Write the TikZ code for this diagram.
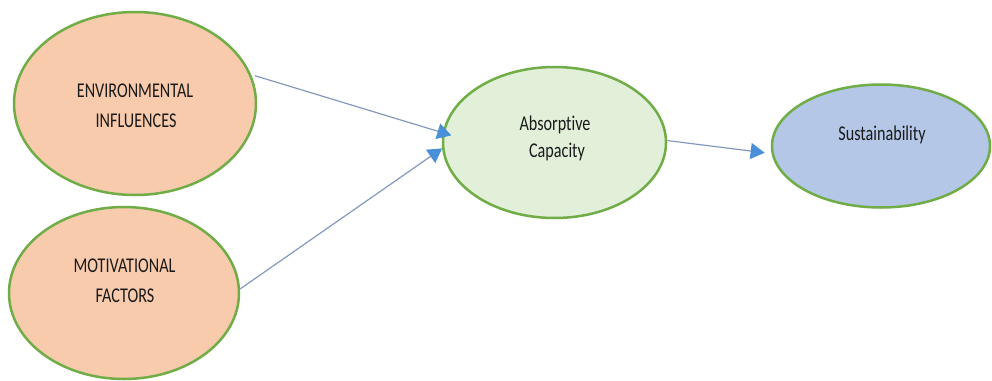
\documentclass[tikz,border=0pt]{standalone}
\usepackage{fontspec}
\newfontfamily\cf[FakeStretch=0.77,Ligatures=NoCommon]{Carlito}
\usetikzlibrary{arrows.meta,shapes.geometric}
\definecolor{bord}{HTML}{70AD47}
\definecolor{orangefill}{HTML}{F8CBAD}
\definecolor{greenfill}{HTML}{E2F0D9}
\definecolor{bluefill}{HTML}{B4C7E7}
\definecolor{lineblue}{HTML}{8499BE}
\definecolor{headblue}{HTML}{4A90D9}
\definecolor{txtcol}{HTML}{1A1A1A}
\begin{document}
\begin{tikzpicture}[x=1pt,y=-1pt,
  oval/.style={ellipse, draw=bord, line width=2.5pt, inner sep=0pt},
  txt/.style={font=\cf\fontsize{21}{25}\selectfont, text=txtcol, anchor=base, inner sep=0pt},
  arr/.style={draw=lineblue, line width=1.2pt, -{Triangle[length=14pt,width=16pt,color=headblue]}}]
\useasboundingbox (0,0) rectangle (992,380);
\fill[white] (0,0) rectangle (992,380);
\node[oval, fill=orangefill, minimum width=242pt, minimum height=183pt] (env) at (135,103.5) {};
\node[oval, fill=orangefill, minimum width=230pt, minimum height=172pt] (mot) at (124,293) {};
\node[oval, fill=greenfill, minimum width=223pt, minimum height=151pt] (abs) at (554.5,142.5) {};
\node[oval, fill=bluefill, minimum width=218pt, minimum height=123pt] (sus) at (881,146) {};
\node[txt] (env1) at (135,97) {ENVIRONMENTAL};
\node[txt] (env2) at (136,127) {INFLUENCES};
\node[txt] (mot1) at (124.5,272) {MOTIVATIONAL};
\node[txt] (mot2) at (125,302) {FACTORS};
\node[txt] (abs1) at (555,130) {Absorptive};
\node[txt] (abs2) at (557,157) {Capacity};
\node[txt] (sus1) at (882,140) {Sustainability};
\draw[arr, shorten <=4pt, shorten >=-9pt] (env.14) -- (abs.175);
\draw[arr] (mot.2) -- (abs.183);
\draw[arr, shorten >=7pt] (abs.1) -- (sus.184);
\end{tikzpicture}
\end{document}
